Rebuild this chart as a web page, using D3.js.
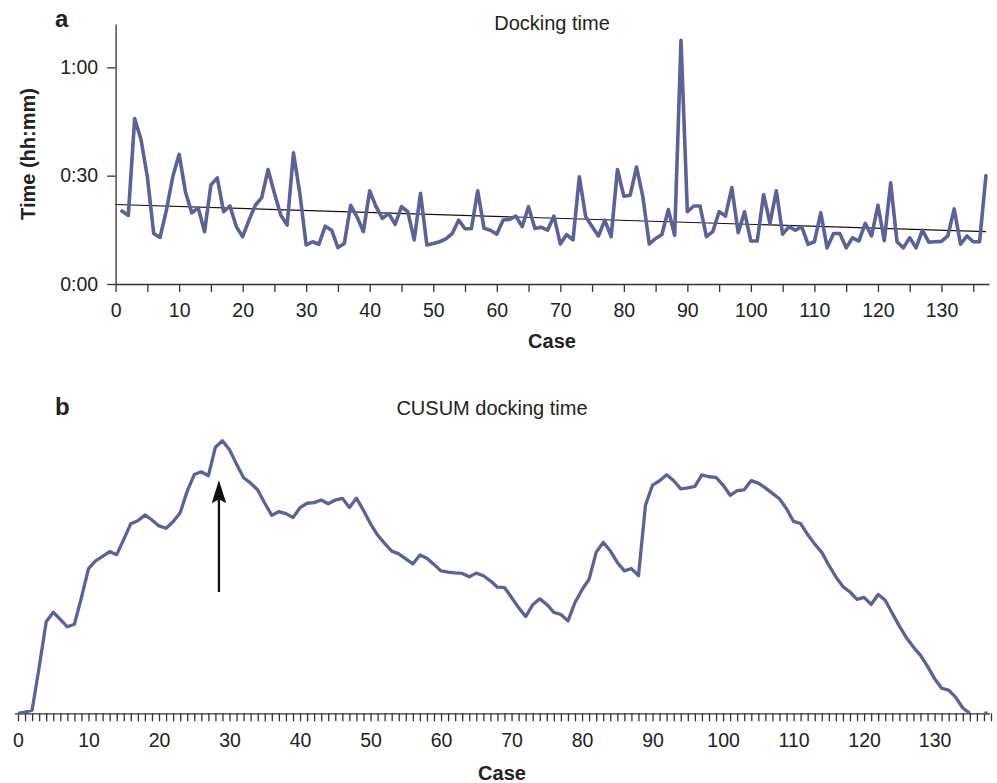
<!DOCTYPE html>
<html>
<head>
<meta charset="utf-8">
<script src="https://cdn.jsdelivr.net/npm/d3@7"></script>
<style>
  body { margin: 0; background: #fff; }
  text { font-family: "Liberation Sans", Arial, Helvetica, sans-serif; fill: #222; }
</style>
</head>
<body>
<div id="chart"></div>
<script>
// Docking time per case (minutes), cases 1..137
const dockingMinutes = [
  20.2, 19.0, 45.8, 40.0, 29.7, 14.0, 12.9, 20.5, 29.7, 35.9,
  25.5, 19.7, 21.1, 14.5, 27.4, 29.4, 20.0, 21.6, 15.9, 13.1,
  17.7, 21.8, 23.9, 31.7, 25.1, 19.1, 16.3, 36.3, 25.1, 10.8,
  11.7, 11.0, 16.0, 14.9, 10.1, 11.2, 21.8, 18.6, 14.5, 25.8,
  21.4, 18.2, 19.5, 16.5, 21.4, 20.0, 12.2, 25.1, 10.8, 11.2,
  11.7, 12.5, 14.0, 17.7, 15.3, 15.3, 25.8, 15.4, 14.9, 13.8,
  17.7, 17.9, 18.8, 15.9, 21.4, 15.4, 15.7, 14.9, 18.8, 11.1,
  13.7, 12.2, 29.7, 18.6, 15.9, 13.3, 17.7, 13.1, 31.7, 24.3,
  24.6, 32.4, 24.1, 11.1, 12.6, 13.7, 20.6, 13.5, 67.5, 20.0,
  21.6, 21.6, 13.1, 14.5, 20.0, 18.8, 26.7, 14.2, 20.0, 11.9,
  11.9, 24.8, 16.8, 25.8, 13.8, 15.9, 14.9, 15.9, 11.0, 11.7,
  19.7, 10.0, 14.0, 14.0, 10.0, 12.8, 11.9, 16.8, 13.3, 21.8,
  12.0, 28.0, 11.7, 10.0, 12.8, 10.0, 14.9, 11.6, 11.7, 11.8,
  13.3, 20.8, 11.0, 13.3, 11.7, 11.7, 30.0
];
const dockingCases = d3.range(1, dockingMinutes.length + 1);

// Linear trend line (read at its ends)
const trendCases = [0, 137];
const trendMinutes = [22.0, 14.5];

// CUSUM of docking time, cases 0..137 (null = not drawn)
const cusumValues = [
  0, 0.7, 1.9, 28.9, 57.4, 63.3, 58.8, 54.2, 55.8, 72.6,
  90.6, 95.5, 98.3, 101.3, 99.4, 109, 118.8, 120.6, 124.3, 121.1,
  117.4, 115.9, 120, 125.6, 139.2, 149.6, 151.3, 148.8, 166.7, 170.7,
  165.1, 156.1, 147.6, 144.2, 139.9, 131.6, 124, 126.4, 125.1, 122.6,
  128.8, 131.6, 132, 133.6, 131.3, 133.6, 134.7, 128.9, 134.8, 127.1,
  118.7, 111.7, 106.5, 101.6, 99.9, 96.7, 93.6, 99.2, 97.1, 93.3,
  89.2, 88.5, 88, 87.6, 85.5, 87.8, 86.2, 83, 79, 78.8,
  72.6, 66.2, 60.6, 68, 71.7, 68.2, 63.2, 61.9, 57.9, 69.4,
  77.4, 84.1, 100.8, 107.1, 101.8, 94.5, 89.2, 90.7, 86.2, 130.5,
  143, 145.7, 149.5, 145.7, 140.6, 141.2, 142.2, 149.4, 148.2, 147.8,
  143, 136.6, 139.5, 140, 145.8, 144.2, 141.2, 137.8, 134.4, 128.2,
  120.2, 118.9, 112, 106, 100.8, 92.8, 85.4, 79.4, 76, 71.4,
  72.6, 68.2, 74.4, 70.8, 62.7, 54.6, 47.4, 41.5, 36.3, 29.4,
  21.7, 15.7, 14.5, 10, 3.3, 0, null, 0
];
const cusumCases = d3.range(0, cusumValues.length);

// Axis ticks
const yTickMinutes = [0, 30, 60];
const yTickLabels = ['0:00', '0:30', '1:00'];
const topCaseTicks = d3.range(0, 136, 5);
const bottomCaseTicks = d3.range(0, 139, 1);

// Arrow marking the CUSUM peak
const arrowCase = 28.5;
const arrowFrom = 76;
const arrowTo = 146;

const lineColor = '#5a6298';
const axisColor = '#333';

const width = 997;
const height = 783;

const svg = d3.select('#chart')
  .append('svg')
  .attr('width', width)
  .attr('height', height);

// ---------- Panel a: docking time ----------
const xA = d3.scaleLinear().domain([0, 138]).range([115.6, 992.3]);
const yA = d3.scaleLinear().domain([0, 72]).range([284, 24]);

const gA = svg.append('g');

const xAxisA = gA.append('g')
  .attr('transform', `translate(0,${yA(0)})`)
  .call(d3.axisBottom(xA)
    .tickValues(topCaseTicks)
    .tickFormat(d => d % 10 === 0 ? d : '')
    .tickSize(8)
    .tickSizeOuter(0)
    .tickPadding(11));

xAxisA.select('.domain').attr('d', `M${xA(0)},0.5H989.5`);

const yAxisA = gA.append('g')
  .attr('transform', `translate(${xA(0)},0)`)
  .call(d3.axisLeft(yA)
    .tickValues(yTickMinutes)
    .tickFormat((d, i) => yTickLabels[i])
    .tickSize(8.5)
    .tickSizeOuter(0)
    .tickPadding(9));

[xAxisA, yAxisA].forEach(ax => {
  ax.selectAll('path, line').attr('stroke', axisColor).attr('stroke-width', 1.3);
  ax.selectAll('text').attr('font-size', '19.5px').attr('fill', '#222');
});

// trend line
gA.append('line')
  .attr('x1', xA(trendCases[0]))
  .attr('y1', yA(trendMinutes[0]))
  .attr('x2', xA(trendCases[1]))
  .attr('y2', yA(trendMinutes[1]))
  .attr('stroke', '#111')
  .attr('stroke-width', 1.1);

const lineA = d3.line()
  .x((d, i) => xA(dockingCases[i]))
  .y(d => yA(d));

gA.append('path')
  .datum(dockingMinutes)
  .attr('d', lineA)
  .attr('fill', 'none')
  .attr('stroke', lineColor)
  .attr('stroke-width', 3.6)
  .attr('stroke-linejoin', 'round')
  .attr('stroke-linecap', 'round');

gA.append('text')
  .attr('x', 55).attr('y', 27)
  .attr('font-size', '24px').attr('font-weight', 'bold')
  .text('a');

gA.append('text')
  .attr('x', 552).attr('y', 30)
  .attr('text-anchor', 'middle')
  .attr('font-size', '20px')
  .text('Docking time');

gA.append('text')
  .attr('x', 552).attr('y', 348)
  .attr('text-anchor', 'middle')
  .attr('font-size', '20px').attr('font-weight', 'bold')
  .text('Case');

gA.append('text')
  .attr('transform', 'translate(35,154) rotate(-90)')
  .attr('text-anchor', 'middle')
  .attr('font-size', '20px').attr('font-weight', 'bold')
  .text('Time (hh:mm)');

// ---------- Panel b: CUSUM ----------
const xB = d3.scaleLinear().domain([0, 138]).range([18, 991]);
const yB = d3.scaleLinear().domain([0, 180]).range([713.3, 426]);

const gB = svg.append('g');

const xAxisB = gB.append('g')
  .attr('transform', `translate(0,${yB(0)})`)
  .call(d3.axisBottom(xB)
    .tickValues(bottomCaseTicks)
    .tickFormat(d => d % 10 === 0 ? d : '')
    .tickSize(8)
    .tickSizeOuter(0)
    .tickPadding(12));

xAxisB.select('.domain').attr('d', `M${xB(0) - 3},0.5H990`);
xAxisB.selectAll('path, line').attr('stroke', axisColor).attr('stroke-width', 1.3);
xAxisB.selectAll('text').attr('font-size', '19.5px').attr('fill', '#222');

const lineB = d3.line()
  .defined(d => d != null)
  .x((d, i) => xB(cusumCases[i]))
  .y(d => yB(d));

gB.append('path')
  .datum(cusumValues)
  .attr('d', lineB)
  .attr('fill', 'none')
  .attr('stroke', lineColor)
  .attr('stroke-width', 3.3)
  .attr('stroke-linejoin', 'round');

// isolated final point
const lastIdx = cusumValues.length - 1;
gB.append('circle')
  .attr('cx', xB(cusumCases[lastIdx]) + 2)
  .attr('cy', yB(cusumValues[lastIdx]))
  .attr('r', 2)
  .attr('fill', lineColor);

// arrow
const ax = xB(arrowCase);
const tipY = yB(arrowTo);
gB.append('line')
  .attr('x1', ax).attr('y1', yB(arrowFrom))
  .attr('x2', ax).attr('y2', tipY + 15)
  .attr('stroke', '#111')
  .attr('stroke-width', 2.3);
gB.append('path')
  .attr('d', `M${ax},${tipY} L${ax + 7.3},${tipY + 23} L${ax},${tipY + 19} L${ax - 7.3},${tipY + 23} Z`)
  .attr('fill', '#111');

gB.append('text')
  .attr('x', 55).attr('y', 415)
  .attr('font-size', '24px').attr('font-weight', 'bold')
  .text('b');

gB.append('text')
  .attr('x', 492).attr('y', 415)
  .attr('text-anchor', 'middle')
  .attr('font-size', '20px')
  .text('CUSUM docking time');

gB.append('text')
  .attr('x', 502).attr('y', 780)
  .attr('text-anchor', 'middle')
  .attr('font-size', '20px').attr('font-weight', 'bold')
  .text('Case');
</script>
</body>
</html>
